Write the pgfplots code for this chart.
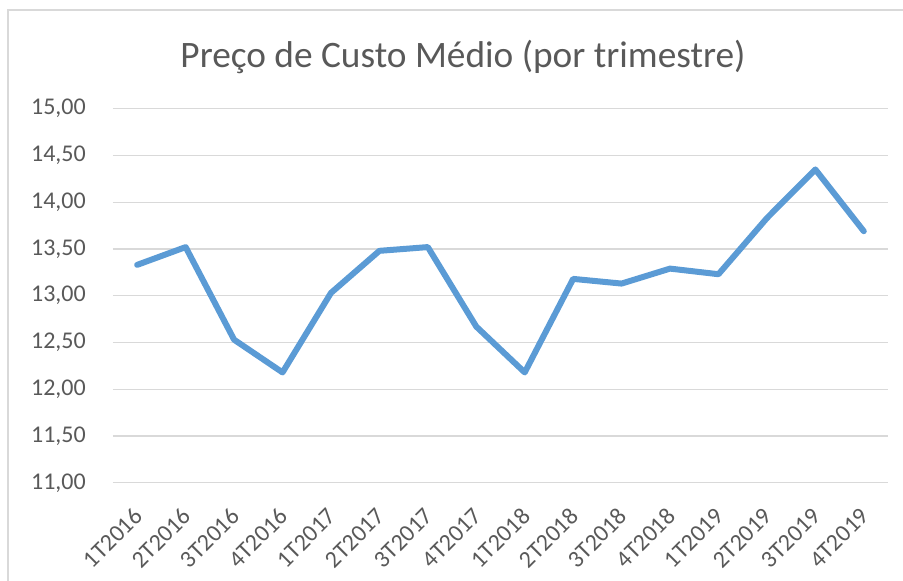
\documentclass[border=0pt]{standalone}
\usepackage{pgfplots}
\pgfplotsset{compat=1.18}
\usepackage{fontspec}
\setmainfont{Carlito}
\definecolor{linec}{HTML}{5B9BD5}
\definecolor{gridc}{HTML}{D9D9D9}
\definecolor{textc}{HTML}{595959}
\begin{document}
\begin{tikzpicture}
\path[use as bounding box] (-84.75pt,-73.65pt) rectangle (592.5pt,362.1pt);
\draw[gridc, line width=1pt] (-78.75pt,-73.65pt) -- (-78.75pt,354.6pt) -- (592.5pt,354.6pt);
\begin{axis}[
  at={(0pt,0pt)}, anchor=south west,
  scale only axis,
  width=581.25pt, height=280.6pt,
  xmin=-0.5, xmax=15.5,
  ymin=11, ymax=15,
  ytick={11,11.5,...,15},
  xtick={0,...,15},
  xticklabels={1T2016,2T2016,3T2016,4T2016,1T2017,2T2017,3T2017,4T2017,1T2018,2T2018,3T2018,4T2018,1T2019,2T2019,3T2019,4T2019},
  axis line style={draw=none},
  major tick length=0pt,
  ymajorgrids,
  grid style={gridc, line width=1pt},
  /pgf/number format/.cd, fixed, fixed zerofill, precision=2, use comma, assume math mode=true,
  /pgfplots/.cd,
  yticklabel style={font=\fontsize{18}{21}\selectfont, text=textc, anchor=east, inner sep=0pt, xshift=-20.25pt},
  xticklabel style={font=\fontsize{18}{21}\selectfont, text=textc, yshift=-22pt, xshift=1pt, rotate=45, anchor=east, inner sep=0pt},
  clip=false,
]
\addplot[linec, line width=4.5pt, line join=round, line cap=round] coordinates {
(0,13.33) (1,13.52) (2,12.53) (3,12.18) (4,13.03) (5,13.48) (6,13.52) (7,12.67)
(8,12.18) (9,13.18) (10,13.13) (11,13.29) (12,13.23) (13,13.83) (14,14.35) (15,13.69)
};
\end{axis}
\node[text=textc, font=\fontsize{28}{33}\selectfont] at (262.5pt,319pt) {Preço de Custo Médio (por trimestre)};
\end{tikzpicture}
\end{document}
